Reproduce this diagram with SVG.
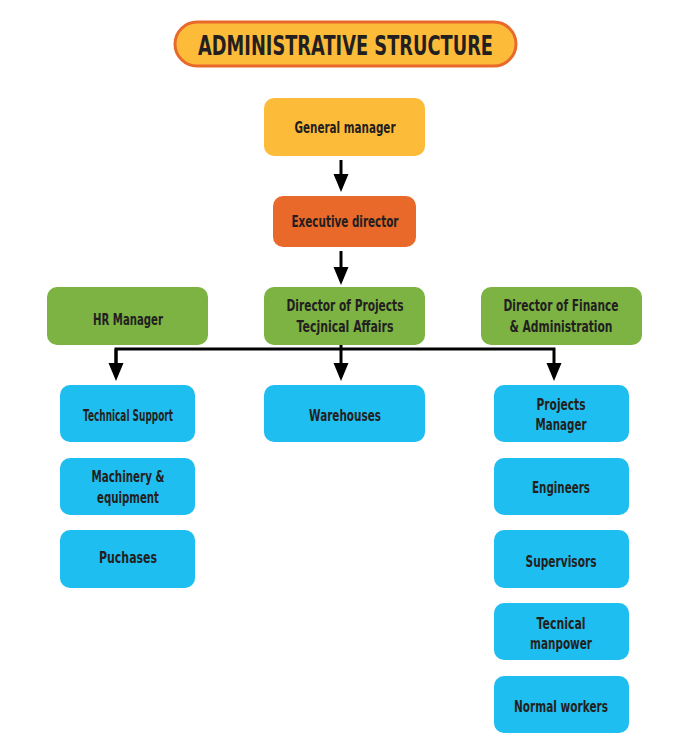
<svg xmlns="http://www.w3.org/2000/svg" width="686" height="740" viewBox="0 0 686 740">
<style>
text{font-family:"DejaVu Sans","Liberation Sans",sans-serif;font-weight:bold;fill:#231f20;text-anchor:middle;font-size:16px}
.y{fill:#fdbb3a}.o{fill:#e8692a}.g{fill:#7cb342}.b{fill:#1ebef0}
.c{stroke:#000;stroke-width:3;fill:none}
</style>
<defs><marker id="ah" markerWidth="6" markerHeight="6" refX="3" refY="3" orient="auto" markerUnits="strokeWidth"><path d="M0,0.5 L6,3 L0,5.5 Z" fill="#000"/></marker></defs>
<rect width="686" height="740" fill="#fff"/>
<g id="title"><rect x="175" y="22" width="341" height="44" rx="22" fill="#fdbb3a" stroke="#e8692a" stroke-width="3"/><text x="345.5" y="55" style="font-size:27px" textLength="295" lengthAdjust="spacingAndGlyphs">ADMINISTRATIVE STRUCTURE</text></g>
<g id="general"><rect class="y" x="264" y="98" width="161" height="58" rx="10"/><text x="345" y="133" textLength="101" lengthAdjust="spacingAndGlyphs">General manager</text></g>
<g id="exec"><rect class="o" x="273" y="196" width="143" height="51" rx="10"/><text x="345" y="227" textLength="107" lengthAdjust="spacingAndGlyphs">Executive director</text></g>
<g id="hr"><rect class="g" x="47" y="287" width="161" height="58" rx="10"/><text x="128" y="325" textLength="70" lengthAdjust="spacingAndGlyphs">HR Manager</text></g>
<g id="dproj"><rect class="g" x="264" y="287" width="161" height="58" rx="10"/><text x="345" y="311" textLength="117" lengthAdjust="spacingAndGlyphs">Director of Projects</text><text x="345" y="332" textLength="97" lengthAdjust="spacingAndGlyphs">Tecjnical Affairs</text></g>
<g id="dfin"><rect class="g" x="481" y="287" width="161" height="58" rx="10"/><text x="561" y="311" textLength="115" lengthAdjust="spacingAndGlyphs">Director of Finance</text><text x="561" y="332" textLength="103" lengthAdjust="spacingAndGlyphs">&amp; Administration</text></g>
<g id="techsup"><rect class="b" x="60" y="385" width="135" height="57" rx="10"/><text x="128" y="421" style="font-size:15px" textLength="90" lengthAdjust="spacingAndGlyphs">Technical Support</text></g>
<g id="mach"><rect class="b" x="60" y="458" width="135" height="57" rx="10"/><text x="128" y="482" textLength="73" lengthAdjust="spacingAndGlyphs">Machinery &amp;</text><text x="128" y="503" textLength="62" lengthAdjust="spacingAndGlyphs">equipment</text></g>
<g id="puch"><rect class="b" x="60" y="530" width="135" height="58" rx="10"/><text x="128" y="563" textLength="58" lengthAdjust="spacingAndGlyphs">Puchases</text></g>
<g id="ware"><rect class="b" x="264" y="385" width="161" height="57" rx="10"/><text x="345" y="421" textLength="72" lengthAdjust="spacingAndGlyphs">Warehouses</text></g>
<g id="pm"><rect class="b" x="494" y="385" width="135" height="57" rx="10"/><text x="561" y="410" textLength="49" lengthAdjust="spacingAndGlyphs">Projects</text><text x="561" y="430" textLength="51" lengthAdjust="spacingAndGlyphs">Manager</text></g>
<g id="eng"><rect class="b" x="494" y="458" width="135" height="57" rx="10"/><text x="561" y="493" textLength="58" lengthAdjust="spacingAndGlyphs">Engineers</text></g>
<g id="sup"><rect class="b" x="494" y="530" width="135" height="58" rx="10"/><text x="561" y="567" textLength="71" lengthAdjust="spacingAndGlyphs">Supervisors</text></g>
<g id="tm"><rect class="b" x="494" y="603" width="135" height="57" rx="10"/><text x="561" y="629" textLength="49" lengthAdjust="spacingAndGlyphs">Tecnical</text><text x="561" y="649" textLength="62" lengthAdjust="spacingAndGlyphs">manpower</text></g>
<g id="nw"><rect class="b" x="494" y="676" width="135" height="57" rx="10"/><text x="561" y="712" textLength="94" lengthAdjust="spacingAndGlyphs">Normal workers</text></g>
<g id="connectors">
<path class="c" d="M341,160 V183" marker-end="url(#ah)"/>
<path class="c" d="M341,251 V276" marker-end="url(#ah)"/>
<path class="c" d="M116,372 V349 H554 V372" marker-end="url(#ah)"/>
<path class="c" d="M116,349 V372" marker-end="url(#ah)"/>
<path class="c" d="M341,345 V372" marker-end="url(#ah)"/>
</g>
</svg>
